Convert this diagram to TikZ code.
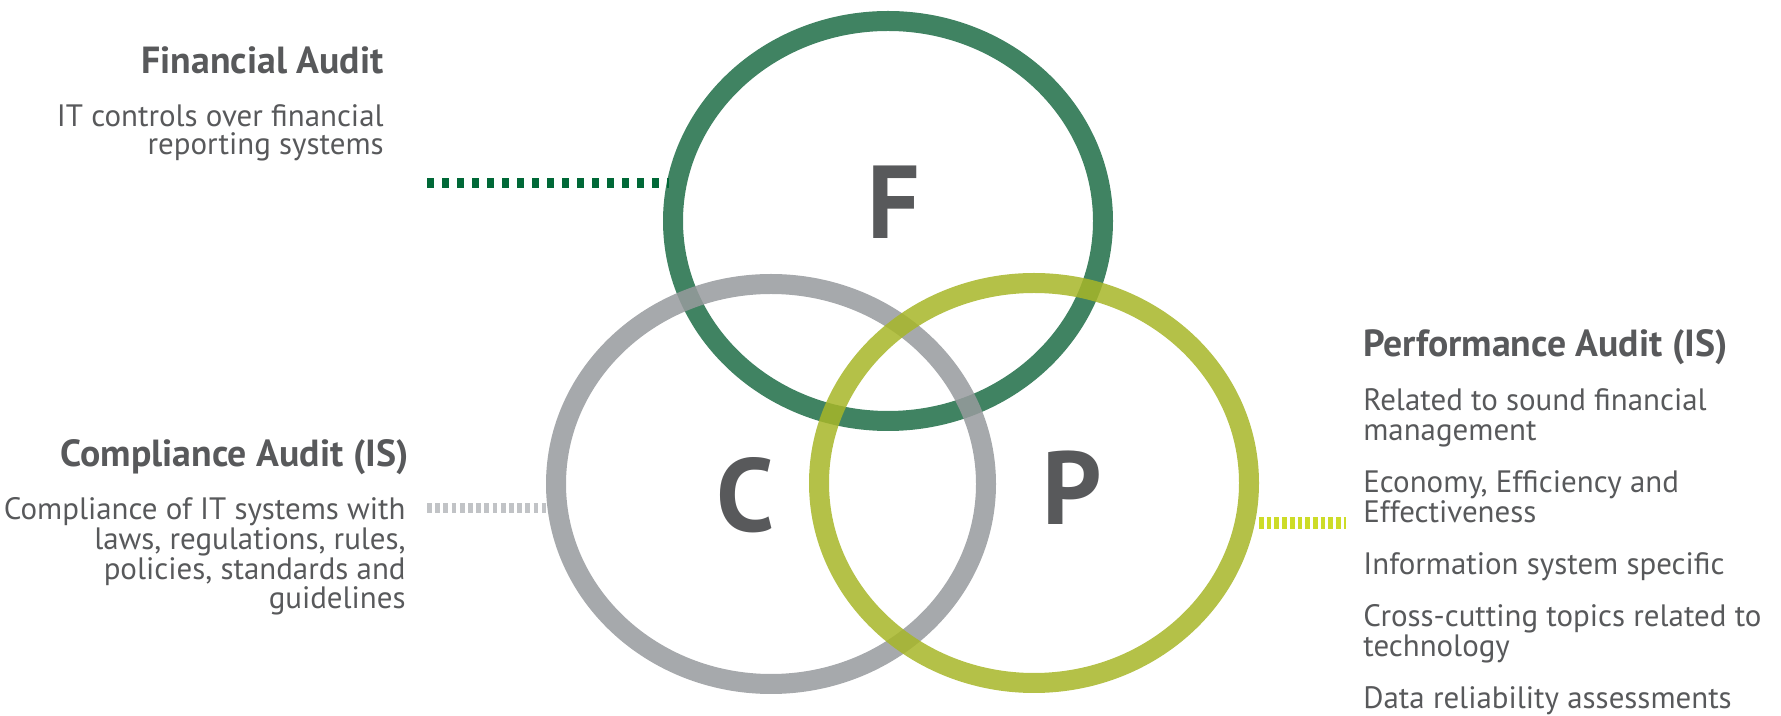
\documentclass[tikz,border=0pt]{standalone}
\usepackage{fontspec}
\setmainfont{PT Sans}
\usetikzlibrary{shapes.geometric}

\definecolor{fring}{HTML}{1F6D47}
\definecolor{cring}{HTML}{979A9D}
\definecolor{pring}{HTML}{A7B628}
\definecolor{fdot}{HTML}{006837}
\definecolor{cdot}{HTML}{C1C3C6}
\definecolor{pdot}{HTML}{CDDC28}
\definecolor{txt}{HTML}{58595B}

\tikzset{
  ring/.style={ellipse, draw=#1, draw opacity=0.85, line width=0.4cm,
    minimum width=8.6cm, minimum height=8cm, inner sep=0pt},
  letter/.style={anchor=base, text=txt, font=\fontsize{59}{59}\selectfont\bfseries},
  head/.style={text=txt, inner sep=0pt, font=\fontsize{21.5}{22}\selectfont\bfseries},
  body/.style={text=txt, inner sep=0pt, font=\fontsize{17.6}{16.4}\selectfont},
}

\begin{document}
\begin{tikzpicture}
    \useasboundingbox (0,0) rectangle (35.62,14.32);

    \node[ring=fring] (F) at (17.76,9.90) {};
    \node[ring=cring] (C) at (15.42,4.64) {};
    \node[ring=pring] (P) at (20.68,4.66) {};

    \node[letter] (f) at (17.88,9.54) {F};
    \node[letter] (c) at (14.90,3.68) {C};
    \node[letter] (p) at (21.44,3.82) {P};

    \node[head, anchor=base east] (fin) at (7.68,12.84) {Financial Audit};
    \node[body, anchor=base east, align=right] (finb) at (7.68,11.22)
        {IT controls over financial\\reporting systems};

    \node[head, anchor=base east] (comp) at (8.18,4.98) {Compliance Audit (IS)};
    \node[body, anchor=base east, align=right, font=\fontsize{17.6}{17}\selectfont] (compb) at (8.12,2.14)
        {Compliance of IT systems with\\laws, regulations, rules,\\policies, standards and\\guidelines};

    \node[head, anchor=base west] (perf) at (27.26,7.18) {Performance Audit (IS)};
    \node[body, anchor=base west, align=left, font=\fontsize{17.6}{17.1}\selectfont] (perfb) at (27.26,0.14)
        {Related to sound financial\\management\\[12.5pt]
         Economy, Efficiency and\\Effectiveness\\[12.5pt]
         Information system specific\\[12.5pt]
         Cross-cutting topics related to\\technology\\[12.5pt]
         Data reliability assessments};

    \coordinate (fa) at (8.54,10.66);
    \coordinate (ca) at (8.54,4.16);
    \coordinate (pa) at (26.92,3.86);
    \draw[fdot, line width=0.19cm, dash pattern=on 0.146cm off 0.154cm, shorten >=-0.12cm] (fa) -- (fa -| F.west);
    \draw[cdot, line width=0.2cm, dash pattern=on 0.094cm off 0.07cm] (ca) -- (ca -| C.west);
    \draw[pdot, line width=0.23cm, dash pattern=on 0.094cm off 0.06cm] (P.east |- pa) -- (pa);
\end{tikzpicture}
\end{document}
